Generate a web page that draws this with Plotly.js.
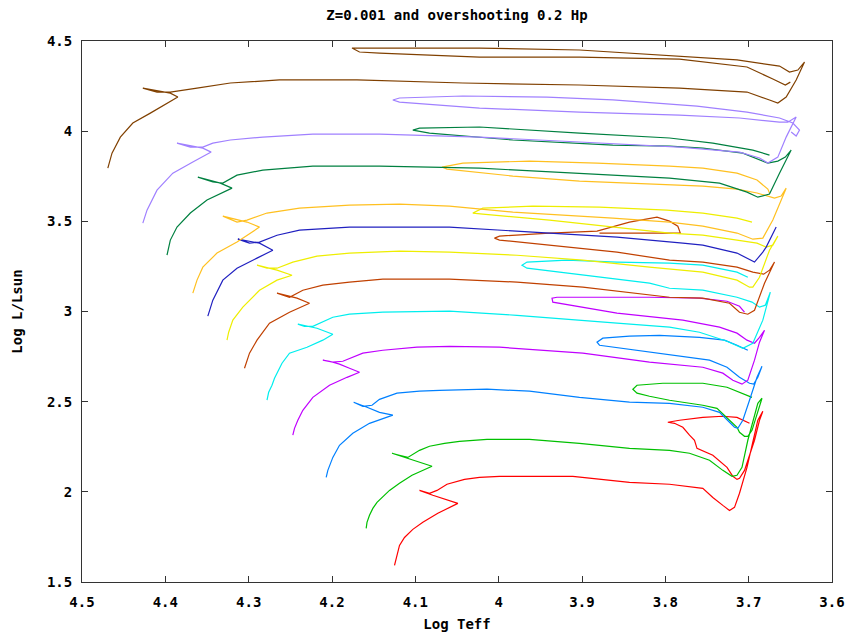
<!DOCTYPE html>
<html><head><meta charset="utf-8">
<script src="https://cdn.plot.ly/plotly-3.0.1.min.js"></script>
<style>html,body{margin:0;padding:0;background:#fff}#chart{width:852px;height:636px}</style>
</head><body><div id="chart"></div>
<script>
// Tick labels
const xTickVals = [4.5,4.4,4.3,4.2,4.1,4.0,3.9,3.8,3.7,3.6];
const xTickText = ['4.5','4.4','4.3','4.2','4.1','4','3.9','3.8','3.7','3.6'];
const yTickVals = [1.5,2,2.5,3,3.5,4,4.5];
const yTickText = ['1.5','2','2.5','3','3.5','4','4.5'];

// Track 1 (red)
const logT_1 = [4.125,4.122,4.119,4.113,4.103,4.091,4.073,4.049,4.065,4.079,4.095,4.083,4.074,4.062,4.041,4.023,3.999,3.963,3.911,3.843,3.795,3.755,3.743,3.731,3.723,3.717,3.711,3.702,3.695,3.689,3.683,3.687,3.693,3.699,3.705,3.711,3.714,3.719,3.726,3.743,3.762,3.765,3.771,3.779,3.789,3.797,3.783,3.755,3.731,3.714,3.699];
const logL_1 = [1.592,1.648,1.703,1.747,1.792,1.831,1.881,1.936,1.958,1.981,2.008,1.992,2.008,2.042,2.069,2.080,2.086,2.086,2.086,2.053,2.042,2.019,1.969,1.925,1.897,1.914,1.992,2.136,2.286,2.397,2.447,2.397,2.286,2.203,2.119,2.075,2.069,2.086,2.136,2.203,2.241,2.286,2.314,2.358,2.380,2.386,2.397,2.413,2.419,2.413,2.380];

// Track 2 (green)
const logT_2 = [4.159,4.158,4.155,4.151,4.146,4.139,4.131,4.119,4.104,4.080,4.095,4.110,4.128,4.119,4.109,4.103,4.095,4.083,4.065,4.047,4.014,3.963,3.903,3.843,3.795,3.771,3.747,3.731,3.720,3.714,3.708,3.701,3.693,3.689,3.684,3.688,3.692,3.696,3.701,3.705,3.711,3.714,3.723,3.738,3.755,3.795,3.819,3.834,3.839,3.834,3.803,3.755,3.726,3.696];
const logL_2 = [1.797,1.831,1.870,1.908,1.942,1.975,2.008,2.047,2.092,2.142,2.164,2.186,2.214,2.203,2.191,2.208,2.230,2.253,2.269,2.280,2.291,2.291,2.269,2.241,2.230,2.214,2.175,2.119,2.086,2.092,2.136,2.286,2.413,2.491,2.519,2.463,2.397,2.341,2.308,2.308,2.330,2.358,2.397,2.463,2.480,2.508,2.530,2.547,2.569,2.591,2.602,2.602,2.580,2.524];

// Track 3 (light blue)
const logT_3 = [4.207,4.205,4.199,4.191,4.175,4.155,4.127,4.143,4.158,4.174,4.163,4.152,4.143,4.122,4.095,4.071,4.014,3.963,3.903,3.843,3.795,3.755,3.735,3.723,3.717,3.713,3.707,3.699,3.690,3.684,3.689,3.694,3.699,3.711,3.726,3.747,3.783,3.819,3.855,3.879,3.882,3.875,3.843,3.807,3.759,3.729,3.714,3.701];
const logL_3 = [2.080,2.119,2.191,2.258,2.325,2.380,2.425,2.441,2.469,2.497,2.474,2.480,2.513,2.547,2.558,2.563,2.569,2.558,2.524,2.497,2.491,2.469,2.441,2.386,2.358,2.352,2.397,2.508,2.635,2.696,2.635,2.597,2.602,2.635,2.691,2.730,2.752,2.774,2.796,2.813,2.830,2.852,2.863,2.868,2.857,2.841,2.813,2.785];

// Track 4 (magenta)
const logT_4 = [4.247,4.245,4.241,4.235,4.223,4.203,4.182,4.167,4.179,4.191,4.203,4.211,4.199,4.187,4.176,4.163,4.139,4.098,4.059,3.999,3.899,3.819,3.755,3.731,3.719,3.708,3.701,3.693,3.687,3.681,3.687,3.693,3.702,3.714,3.735,3.779,3.858,3.915,3.935,3.936,3.930,3.879,3.819,3.759,3.726,3.711,3.705];
const logL_4 = [2.314,2.352,2.397,2.452,2.524,2.591,2.635,2.663,2.685,2.708,2.724,2.730,2.719,2.724,2.746,2.769,2.785,2.802,2.807,2.802,2.769,2.719,2.691,2.658,2.619,2.597,2.619,2.730,2.830,2.896,2.857,2.824,2.841,2.880,2.913,2.952,2.991,3.035,3.052,3.074,3.079,3.079,3.079,3.074,3.057,3.029,2.996];

// Track 5 (cyan)
const logT_5 = [4.278,4.276,4.272,4.269,4.260,4.251,4.230,4.211,4.199,4.218,4.241,4.233,4.223,4.199,4.179,4.139,4.059,3.978,3.858,3.795,3.759,3.726,3.707,3.695,3.683,3.674,3.680,3.687,3.696,3.714,3.755,3.795,3.819,3.899,3.966,3.972,3.966,3.918,3.858,3.795,3.755,3.714,3.701];
const logL_5 = [2.508,2.552,2.591,2.630,2.713,2.769,2.802,2.841,2.874,2.907,2.930,2.918,2.918,2.968,2.985,2.996,3.002,2.979,2.935,2.913,2.885,2.835,2.796,2.824,2.952,3.107,3.035,3.024,3.052,3.079,3.118,3.129,3.157,3.201,3.240,3.257,3.274,3.285,3.274,3.268,3.257,3.218,3.190];

// Track 6 (sienna)
const logT_6 = [4.305,4.302,4.299,4.290,4.275,4.251,4.227,4.242,4.266,4.251,4.235,4.211,4.179,4.139,4.059,3.978,3.899,3.795,3.755,3.723,3.711,3.701,3.693,3.681,3.669,3.675,3.682,3.695,3.714,3.755,3.795,3.858,3.939,3.999,4.005,3.999,3.939,3.882,3.843,3.810,3.795,3.785,3.782,3.831,3.879];
const logL_6 = [2.685,2.730,2.769,2.841,2.935,2.996,3.046,3.074,3.102,3.079,3.118,3.146,3.163,3.179,3.179,3.163,3.135,3.079,3.074,3.046,2.996,2.985,3.007,3.157,3.274,3.229,3.207,3.218,3.246,3.274,3.285,3.329,3.368,3.396,3.407,3.418,3.435,3.446,3.496,3.523,3.501,3.473,3.435,3.435,3.435];

// Track 7 (yellow)
const logT_7 = [4.326,4.324,4.319,4.307,4.287,4.266,4.248,4.266,4.290,4.278,4.266,4.247,4.218,4.179,4.119,4.059,3.978,3.899,3.819,3.755,3.714,3.699,3.695,3.687,3.675,3.665,3.671,3.679,3.690,3.714,3.755,3.795,3.858,3.939,4.019,4.031,4.019,3.959,3.879,3.798,3.755,3.714,3.696];
const logL_7 = [2.841,2.885,2.952,3.024,3.118,3.174,3.201,3.229,3.257,3.240,3.240,3.274,3.307,3.324,3.335,3.329,3.312,3.285,3.246,3.218,3.174,3.135,3.135,3.190,3.340,3.418,3.368,3.357,3.379,3.396,3.423,3.435,3.468,3.507,3.540,3.546,3.573,3.584,3.579,3.562,3.546,3.518,3.496];

// Track 8 (dark blue)
const logT_8 = [4.349,4.346,4.343,4.331,4.314,4.290,4.271,4.287,4.313,4.299,4.287,4.266,4.239,4.179,4.098,4.059,3.959,3.858,3.779,3.755,3.714,3.693,3.683,3.679,3.667];
const logL_8 = [2.974,3.018,3.063,3.174,3.240,3.296,3.340,3.379,3.401,3.379,3.385,3.423,3.451,3.468,3.468,3.468,3.440,3.412,3.379,3.368,3.324,3.274,3.329,3.357,3.468];

// Track 9 (orange)
const logT_9 = [4.367,4.364,4.362,4.355,4.338,4.314,4.287,4.302,4.331,4.314,4.302,4.278,4.239,4.179,4.119,4.059,3.983,3.863,3.795,3.755,3.714,3.695,3.683,3.671,3.655,3.661,3.669,3.690,3.714,3.755,3.822,3.903,3.983,4.062,4.068,4.043,3.963,3.882,3.795,3.755,3.714,3.690,3.677,3.675];
const logL_9 = [3.102,3.146,3.174,3.246,3.324,3.385,3.468,3.496,3.529,3.496,3.507,3.546,3.573,3.590,3.595,3.584,3.551,3.518,3.496,3.473,3.435,3.401,3.407,3.507,3.684,3.640,3.629,3.657,3.679,3.695,3.706,3.723,3.751,3.790,3.801,3.823,3.834,3.823,3.806,3.795,3.767,3.729,3.679,3.657];

// Track 10 (dark green)
const logT_10 = [4.398,4.394,4.386,4.370,4.350,4.320,4.334,4.361,4.343,4.331,4.314,4.283,4.223,4.143,4.023,3.903,3.795,3.735,3.702,3.689,3.675,3.663,3.649,3.656,3.665,3.677,3.687,3.707,3.755,3.795,3.863,3.983,4.083,4.103,4.095,4.023,3.903,3.795,3.743,3.695,3.675];
const logL_10 = [3.312,3.396,3.468,3.546,3.618,3.684,3.712,3.745,3.718,3.712,3.756,3.784,3.806,3.806,3.795,3.767,3.740,3.712,3.662,3.634,3.651,3.767,3.895,3.856,3.834,3.823,3.840,3.878,3.906,3.917,3.923,3.951,3.989,4.006,4.017,4.023,3.989,3.962,3.934,3.895,3.867];

// Track 11 (purple)
const logT_11 = [4.427,4.422,4.410,4.391,4.367,4.345,4.355,4.374,4.386,4.370,4.355,4.343,4.322,4.283,4.223,4.143,4.023,3.903,3.783,3.711,3.687,3.677,3.665,3.655,3.643,3.653,3.663,3.711,3.783,3.903,4.023,4.119,4.127,4.119,4.043,3.942,3.863,3.762,3.702,3.663,3.647,3.639,3.643,3.649];
const logL_11 = [3.490,3.562,3.673,3.767,3.829,3.884,3.906,3.923,3.934,3.912,3.912,3.934,3.951,3.967,3.984,3.984,3.967,3.940,3.912,3.884,3.851,3.823,3.856,3.967,4.078,4.050,4.050,4.073,4.089,4.106,4.128,4.161,4.173,4.184,4.195,4.189,4.173,4.139,4.106,4.073,4.045,4.006,3.973,3.995];

// Track 12 (brown)
const logT_12 = [4.469,4.464,4.454,4.439,4.418,4.398,4.385,4.394,4.410,4.427,4.410,4.394,4.362,4.322,4.263,4.170,4.043,3.903,3.783,3.702,3.675,3.665,3.655,3.643,3.633,3.641,3.651,3.663,3.714,3.795,3.903,4.023,4.143,4.176,4.167,4.143,4.023,3.903,3.783,3.702,3.671,3.656,3.650];
const logL_12 = [3.795,3.878,3.967,4.045,4.100,4.156,4.189,4.211,4.223,4.239,4.217,4.217,4.239,4.267,4.284,4.284,4.267,4.256,4.239,4.217,4.173,4.156,4.189,4.284,4.383,4.339,4.328,4.361,4.395,4.417,4.450,4.461,4.461,4.461,4.439,4.433,4.411,4.411,4.400,4.356,4.289,4.256,4.272];

const tracksT = [logT_1,logT_2,logT_3,logT_4,logT_5,logT_6,logT_7,logT_8,logT_9,logT_10,logT_11,logT_12];
const tracksL = [logL_1,logL_2,logL_3,logL_4,logL_5,logL_6,logL_7,logL_8,logL_9,logL_10,logL_11,logL_12];
const lineColors = ['#ff0000','#00c000','#0080ff','#c000ff','#00eeee','#c04000','#eeee00','#2020c0','#ffc020','#008040','#a080ff','#804000'];

const traces = tracksT.map((t, i) => ({
  x: t, y: tracksL[i], type: 'scatter', mode: 'lines',
  line: {color: lineColors[i], width: 1.2}, hoverinfo: 'skip'
}));

const fontFam = 'DejaVu Sans Mono, monospace';
const layout = {
  width: 852, height: 636,
  margin: {l: 82, r: 20, t: 41, b: 54},
  paper_bgcolor: '#ffffff', plot_bgcolor: '#ffffff',
  showlegend: false,
  font: {family: fontFam, size: 14, color: '#000', weight: 'bold'},
  title: {text: 'Z=0.001 and overshooting 0.2 Hp', x: 0.5, xref: 'paper', xanchor: 'center',
          y: 1 - 15/636, yref: 'container', yanchor: 'middle',
          font: {family: fontFam, size: 14, color: '#000', weight: 'bold'}},
  xaxis: {range: [4.5, 3.6], autorange: false, tickvals: xTickVals, ticktext: xTickText,
          ticks: 'inside', ticklen: 6, tickcolor: '#333', showline: true, linecolor: '#333', linewidth: 1,
          mirror: 'ticks', showgrid: false, zeroline: false, ticklabelstandoff: 7,
          title: {text: 'Log Teff', standoff: 10, font: {family: fontFam, size: 14, weight: 'bold'}}},
  yaxis: {range: [1.5, 4.5], autorange: false, tickvals: yTickVals, ticktext: yTickText,
          ticks: 'inside', ticklen: 6, tickcolor: '#333', showline: true, linecolor: '#333', linewidth: 1,
          mirror: 'ticks', showgrid: false, zeroline: false, ticklabelstandoff: 6,
          title: {text: 'Log L/Lsun', standoff: 21, font: {family: fontFam, size: 14, weight: 'bold'}}}
};
Plotly.newPlot('chart', traces, layout, {staticPlot: true, displayModeBar: false});
</script></body></html>
